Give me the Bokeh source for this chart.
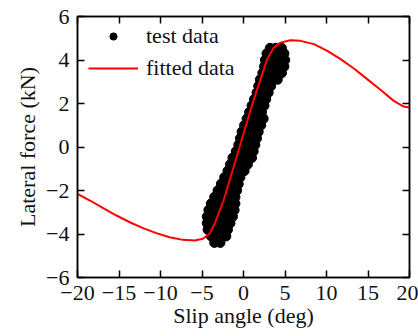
from bokeh.plotting import figure
from bokeh.models import LinearAxis, FixedTicker, Legend, LegendItem
from bokeh.embed import file_html
from bokeh.resources import INLINE

# ---- data ----
fit_x = [-20, -18.5, -16.9, -15.3, -13.7, -12.1, -10.5, -8.9, -7.3, -5.9, -4.9, -4.1,
         -3.5, -2.4, -1.2, 0.0, 1.2, 2.0, 2.85, 3.65, 4.45, 5.65, 6.85, 8.5, 10.1,
         11.7, 13.3, 14.9, 16.5, 18.1, 19.3, 20]
fit_y = [-2.15, -2.46, -2.81, -3.15, -3.46, -3.73, -3.96, -4.15, -4.27, -4.30, -4.22, -3.99,
         -3.55, -2.46, -0.93, 0.61, 2.14, 3.05, 4.04, 4.57, 4.80, 4.91, 4.88, 4.73, 4.42,
         4.04, 3.61, 3.12, 2.63, 2.12, 1.86, 1.82]

test_row_y = [4.55, 4.3, 4.0, 3.7, 3.4, 3.1, 2.8, 2.5, 2.2, 1.9, 1.6, 1.3, 1.0, 0.7, 0.4,
              0.1, -0.2, -0.5, -0.8, -1.1, -1.4, -1.7, -2.0, -2.3, -2.6, -2.9, -3.2,
              -3.5, -3.8, -4.1, -4.4]
test_row_x = [
    [3.2, 3.9, 4.6],
    [2.8, 3.5, 4.2, 4.9],
    [2.6, 3.3, 4.1, 5.0],
    [2.5, 3.2, 4.0, 4.9],
    [2.3, 3.0, 3.8, 4.6],
    [2.0, 2.7, 3.4, 4.1],
    [1.8, 2.5, 3.3],
    [1.6, 2.3, 3.0],
    [1.3, 2.0, 2.7],
    [1.0, 1.7, 2.5],
    [0.7, 1.4, 2.2],
    [0.4, 1.1, 1.8, 2.4],
    [0.1, 0.8, 1.5, 2.1],
    [-0.2, 0.5, 1.2, 1.8],
    [-0.4, 0.3, 1.0, 1.6],
    [-0.6, 0.1, 0.8, 1.4],
    [-0.9, -0.2, 0.5, 1.2],
    [-1.3, -0.6, 0.1, 1.0],
    [-1.6, -0.9, -0.2, 0.5],
    [-1.9, -1.2, -0.5, 0.1],
    [-2.3, -1.6, -0.9, -0.4],
    [-2.7, -2.0, -1.3, -0.6],
    [-3.1, -2.4, -1.6, -0.8],
    [-3.5, -2.7, -1.9, -1.0],
    [-3.9, -3.1, -2.3, -1.5, -1.0],
    [-4.2, -3.4, -2.6, -1.8, -1.1],
    [-4.4, -3.6, -2.8, -2.0, -1.3],
    [-4.4, -3.6, -2.8, -2.0, -1.6],
    [-4.3, -3.5, -2.7, -1.9],
    [-3.9, -3.2, -2.5, -2.1],
    [-3.5, -2.8],
]

x_ticks = [-20, -15, -10, -5, 0, 5, 10, 15, 20]
x_tick_labels = ["\u221220", "\u221215", "\u221210", "\u22125", "0", "5", "10", "15", "20"]
y_ticks = [-6, -4, -2, 0, 2, 4, 6]
y_tick_labels = ["\u22126", "\u22124", "\u22122", "0", "2", "4", "6"]

test_x = [x for row in test_row_x for x in row]
test_y = [y for y, row in zip(test_row_y, test_row_x) for _ in row]

FONT = "Liberation Serif"
FS = "22px"
TXT = "#111111"

p = figure(width=418, height=336, x_range=(-20, 20), y_range=(-6, 6),
           output_backend="svg", toolbar_location=None,
           min_border_left=77, min_border_right=9, min_border_top=16, min_border_bottom=59,
           x_axis_label="Slip angle (deg)", y_axis_label="Lateral force (kN)")
p.grid.visible = False
p.outline_line_color = "black"
p.outline_line_width = 1.5
p.background_fill_color = "white"
p.border_fill_color = "white"

sc = p.scatter(test_x, test_y, size=9.5, color="black")
ln = p.line(fit_x, fit_y, line_color="red", line_width=2, line_join="round")

def style(ax, ticks, labels, show_labels=True):
    ax.ticker = FixedTicker(ticks=ticks)
    if show_labels:
        ax.major_label_overrides = {t: l for t, l in zip(ticks, labels)}
    else:
        ax.major_label_overrides = {t: "" for t in ticks}
    ax.major_tick_in = 7
    ax.major_tick_out = 0
    ax.minor_tick_line_color = None
    ax.axis_line_color = "black"
    ax.axis_line_width = 1.5
    ax.major_tick_line_width = 1.5
    ax.major_label_text_font = FONT
    ax.major_label_text_font_size = FS
    ax.major_label_text_color = TXT
    ax.axis_label_text_font = FONT
    ax.axis_label_text_font_size = FS
    ax.axis_label_text_font_style = "normal"
    ax.axis_label_text_color = TXT

style(p.xaxis[0], x_ticks, x_tick_labels)
style(p.yaxis[0], y_ticks, y_tick_labels)
p.xaxis[0].major_label_standoff = 8
p.xaxis[0].axis_label_standoff = 0
p.yaxis[0].major_label_standoff = 8
p.yaxis[0].axis_label_standoff = 3

top = LinearAxis()
style(top, x_ticks, x_tick_labels, show_labels=False)
top.major_label_standoff = 0
p.add_layout(top, "above")
right = LinearAxis()
style(right, y_ticks, y_tick_labels, show_labels=False)
right.major_label_standoff = 0
p.add_layout(right, "right")

legend = Legend(items=[LegendItem(label="test data", renderers=[sc]),
                       LegendItem(label="fitted data", renderers=[ln])],
                location=(11, 196), border_line_alpha=0, background_fill_alpha=0,
                label_text_font=FONT, label_text_font_size=FS, label_text_color=TXT,
                glyph_width=50, glyph_height=18, label_height=24, label_standoff=8,
                spacing=6, padding=0, margin=0)
p.add_layout(legend)

open("out.html", "w").write(file_html(p, INLINE))
